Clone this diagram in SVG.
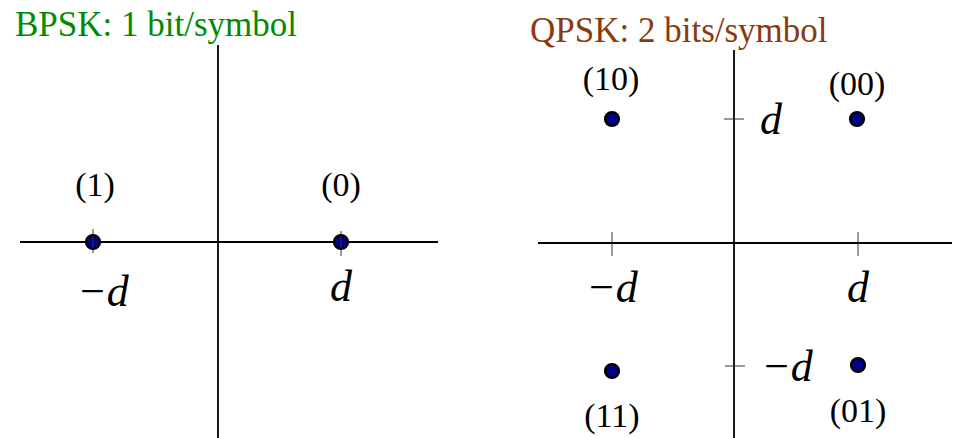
<svg xmlns="http://www.w3.org/2000/svg" width="960" height="438" viewBox="0 0 960 438">
<style>
.ax{stroke:#000;stroke-width:1.8;fill:none}
.tk{stroke:#333;stroke-width:1;fill:none}
.pt{fill:#00008b;stroke:#000;stroke-width:2.6}
.lb{font-family:"Liberation Serif","Times New Roman",serif;font-size:34px;fill:#000;text-anchor:middle}
.dl{font-family:"Liberation Serif","Times New Roman",serif;font-size:44px;font-style:italic;fill:#000;text-anchor:middle}
.ttl{font-family:"Liberation Serif","Times New Roman",serif;font-size:35px}
</style>
<text class="ttl" x="15" y="36" fill="#008c00">BPSK: 1 bit/symbol</text>
<text class="ttl" x="530" y="42" fill="#8b3a0f">QPSK: 2 bits/symbol</text>
<g id="axes">
<line class="ax" x1="218" y1="45" x2="218" y2="438"/>
<line class="ax" x1="20" y1="242" x2="438" y2="242"/>
<line class="ax" x1="734" y1="50" x2="734" y2="438"/>
<line class="ax" x1="538" y1="243" x2="952" y2="243"/>
<line class="tk" x1="93" y1="229" x2="93" y2="253"/>
<line class="tk" x1="341" y1="231" x2="341" y2="256"/>
<line class="tk" x1="612" y1="232" x2="612" y2="256"/>
<line class="tk" x1="858" y1="232" x2="858" y2="256"/>
<line class="tk" x1="724" y1="119" x2="744" y2="119"/>
<line class="tk" x1="725" y1="366" x2="745" y2="366"/>
</g>
<g id="bpsk1"><circle class="pt" cx="93" cy="242" r="6.8"/><line class="tk" x1="93" y1="236" x2="93" y2="248"/><text class="lb" x="95" y="196">(1)</text></g>
<g id="bpsk0"><circle class="pt" cx="341" cy="242" r="6.8"/><line class="tk" x1="341" y1="236" x2="341" y2="248"/><text class="lb" x="341" y="196">(0)</text></g>
<text class="dl" x="103" y="306">−d</text>
<text class="dl" x="341" y="301">d</text>
<g id="q10"><circle class="pt" cx="612" cy="119" r="6.8"/><text class="lb" x="611" y="90">(10)</text></g>
<g id="q00"><circle class="pt" cx="857" cy="119" r="6.8"/><text class="lb" x="857" y="95">(00)</text></g>
<g id="q11"><circle class="pt" cx="612" cy="371" r="6.8"/><text class="lb" x="612" y="427">(11)</text></g>
<g id="q01"><circle class="pt" cx="858" cy="365" r="6.8"/><text class="lb" x="858" y="422">(01)</text></g>
<text class="dl" x="771" y="134">d</text>
<text class="dl" x="612" y="302">−d</text>
<text class="dl" x="858" y="302">d</text>
<text class="dl" x="787" y="381">−d</text>
</svg>
